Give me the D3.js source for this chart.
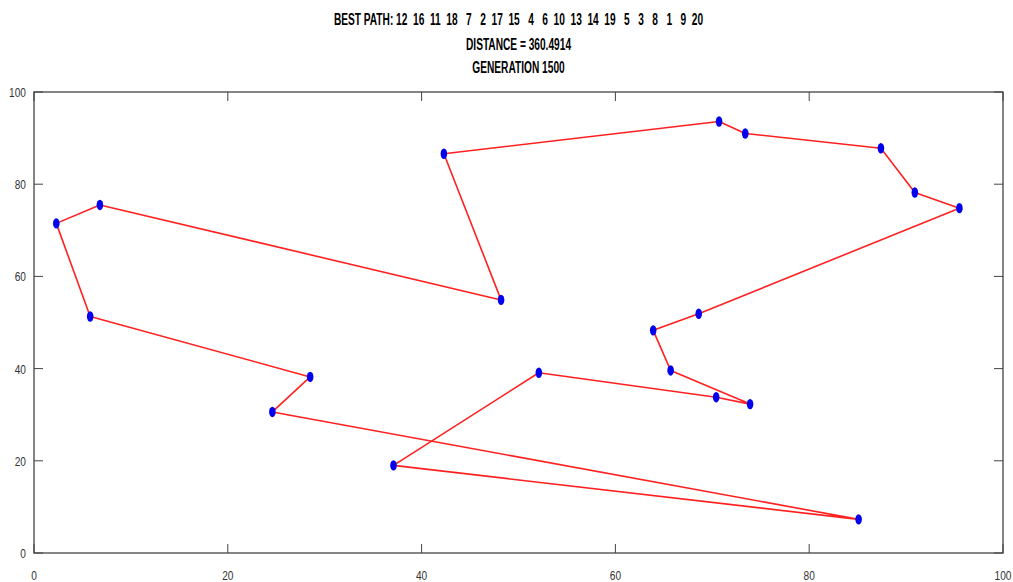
<!DOCTYPE html>
<html><head><meta charset="utf-8">
<script src="https://cdn.jsdelivr.net/npm/d3@7"></script>
<style>body{margin:0;background:#fff;} text{font-family:"Liberation Sans",Arial,sans-serif;}</style>
</head><body>
<svg id="c" width="1013" height="582"></svg>
<script>
// cities in best-path order
const pathOrder = [12,16,11,18,7,2,17,15,4,6,10,13,14,19,5,3,8,1,9,20];
const cityX = [42.3,70.7,73.4,87.4,90.9,95.5,68.6,63.9,65.7,73.9,70.4,52.1,37.1,85.1,24.6,28.5,5.8,2.3,6.8,48.2];
const cityY = [86.6,93.6,91.0,87.8,78.2,74.8,51.9,48.3,39.6,32.3,33.8,39.1,19.0,7.3,30.6,38.2,51.3,71.5,75.5,54.9];
const xTicks = [0,20,40,60,80,100];
const yTicks = [0,20,40,60,80,100];
const titleLines = [
  "BEST PATH: " + pathOrder.map(d => (d < 10 ? " " : "") + d).join("  ").replace(/ {2,}/g, m => "\u00a0".repeat(m.length)),
  "DISTANCE = 360.4914",
  "GENERATION 1500"
];

const svg = d3.select("#c");
const L = 34, R = 1003, T = 92, B = 553;
const x = d3.scaleLinear().domain([0,100]).range([L,R]);
const y = d3.scaleLinear().domain([0,100]).range([B,T]);
const sq = 0.78;

// box
svg.append("rect").attr("x",L).attr("y",T).attr("width",R-L).attr("height",B-T)
  .attr("fill","none").attr("stroke","#444").attr("stroke-width",1.3);

const axisColor = "#444";
xTicks.forEach(t => {
  svg.append("line").attr("x1",x(t)).attr("x2",x(t)).attr("y1",B).attr("y2",B-9).attr("stroke",axisColor);
  svg.append("line").attr("x1",x(t)).attr("x2",x(t)).attr("y1",T).attr("y2",T+9).attr("stroke",axisColor);
  svg.append("text").attr("transform",`translate(${x(t)},${B+27}) scale(${sq},1)`)
    .attr("text-anchor","middle").attr("font-size",13).attr("fill","#333").text(t);
});
yTicks.forEach(t => {
  svg.append("line").attr("x1",L).attr("x2",L+9).attr("y1",y(t)).attr("y2",y(t)).attr("stroke",axisColor);
  svg.append("line").attr("x1",R).attr("x2",R-9).attr("y1",y(t)).attr("y2",y(t)).attr("stroke",axisColor);
  svg.append("text").attr("transform",`translate(${L-8},${y(t)+5}) scale(${sq},1)`)
    .attr("text-anchor","end").attr("font-size",13).attr("fill","#333").text(t);
});

// path (closed)
const pts = cityX.map((cx,i) => [cx, cityY[i]]);
const line = d3.line().x(d => x(d[0])).y(d => y(d[1]));
svg.append("path").attr("d", line(pts.concat([pts[0]])))
  .attr("fill","none").attr("stroke","#ff2020").attr("stroke-width",1.6).attr("stroke-linejoin","round");

svg.selectAll("ellipse.pt").data(pts).enter().append("ellipse")
  .attr("cx", d => x(d[0])).attr("cy", d => y(d[1])).attr("rx",3.3).attr("ry",5.2)
  .attr("fill","#0000ee");

// title
const tY = [25, 50, 73];
titleLines.forEach((s,i) => {
  svg.append("text").attr("transform",`translate(${(L+R)/2},${tY[i]}) scale(0.635,1)`)
    .attr("text-anchor","middle").attr("font-size",16).attr("font-weight","bold").attr("fill","#000")
    .attr("xml:space","preserve").text(s);
});
</script>
</body></html>
